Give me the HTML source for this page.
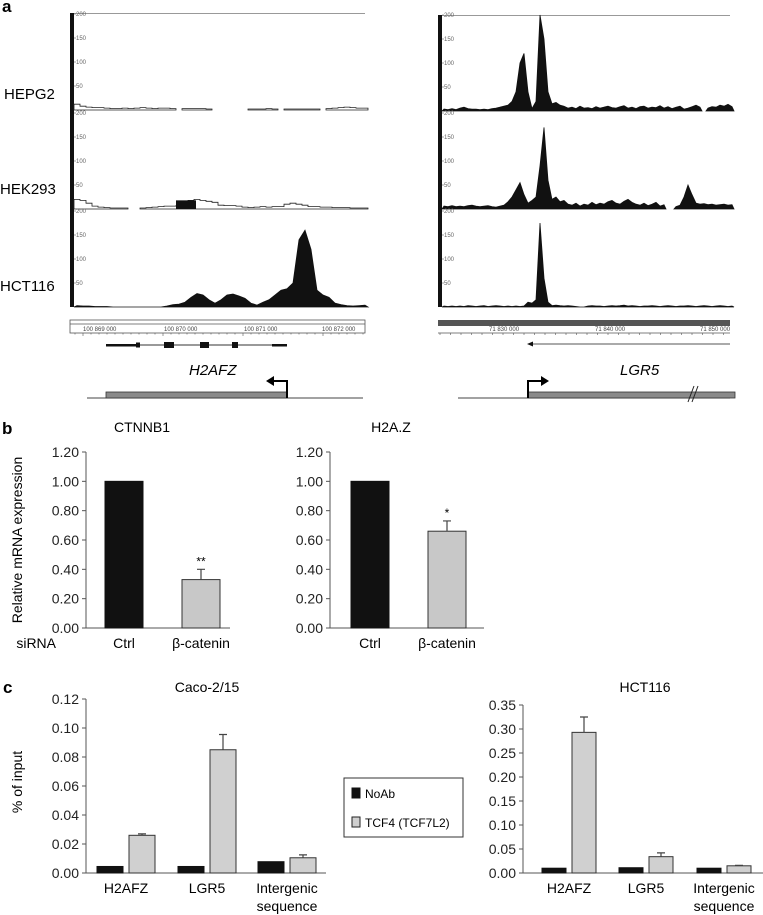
<!DOCTYPE html>
<html><head><meta charset="utf-8">
<style>
html,body{margin:0;padding:0;background:#fff;}
svg{display:block;font-family:"Liberation Sans",Arial,sans-serif;}
</style></head>
<body>
<svg id="fig" width="763" height="915" viewBox="0 0 763 915" xmlns="http://www.w3.org/2000/svg">
  <text x="2" y="12" font-size="17" font-weight="bold">a</text>
  <text x="2" y="434" font-size="17" font-weight="bold">b</text>
  <text x="3" y="693" font-size="17" font-weight="bold">c</text>

  <g>
    <rect x="70" y="13" width="4" height="294" fill="#111"/>
    <line x1="74" y1="13.5" x2="365" y2="13.5" stroke="#999" stroke-width="1"/>
    <text x="4" y="99" font-size="15">HEPG2</text>
    <text x="0" y="194" font-size="15">HEK293</text>
    <text x="0" y="291" font-size="15">HCT116</text>
    <g id="leftTracks"></g>
    <rect x="70" y="320" width="295" height="13" fill="#fff" stroke="#555" stroke-width="0.8"/>
    <line x1="70" y1="324" x2="365" y2="324" stroke="#555" stroke-width="0.8"/>
    <g id="leftRulerTicks"></g>
    <text x="83" y="331" font-size="6" fill="#444">100  869  000</text>
    <text x="164" y="331" font-size="6" fill="#444">100  870  000</text>
    <text x="244" y="331" font-size="6" fill="#444">100  871  000</text>
    <text x="322" y="331" font-size="6" fill="#444">100  872  000</text>
    <g>
      <line x1="106" y1="345" x2="287" y2="345" stroke="#333" stroke-width="1"/>
      <rect x="106" y="344" width="32" height="2.5" fill="#111"/>
      <rect x="136" y="342.5" width="4" height="5" fill="#111"/>
      <rect x="164" y="342" width="10" height="6" fill="#111"/>
      <rect x="200" y="342" width="9" height="6" fill="#111"/>
      <rect x="232" y="342" width="6" height="6" fill="#111"/>
      <rect x="272" y="344" width="15" height="2.5" fill="#111"/>
    </g>
    <text x="189" y="375" font-size="15" font-style="italic">H2AFZ</text>
    <line x1="87" y1="398" x2="363" y2="398" stroke="#444" stroke-width="1"/>
    <rect x="106" y="392" width="181" height="6" fill="#8a8a8a" stroke="#333" stroke-width="0.8"/>
    <path d="M287 398 V381 H272" fill="none" stroke="#000" stroke-width="2"/>
    <path d="M266 381 L274 376 L274 386 Z" fill="#000"/>
  </g>

  <g>
    <rect x="438" y="15" width="4" height="292" fill="#111"/>
    <line x1="442" y1="15.5" x2="730" y2="15.5" stroke="#999" stroke-width="1"/>
    <g id="rightTracks"></g>
    <rect x="438" y="320" width="292" height="6" fill="#555"/>
    <line x1="438" y1="333" x2="730" y2="333" stroke="#555" stroke-width="0.8"/>
    <g id="rightRulerTicks"></g>
    <text x="489" y="331" font-size="6" fill="#444">71  830  000</text>
    <text x="595" y="331" font-size="6" fill="#444">71  840  000</text>
    <text x="700" y="331" font-size="6" fill="#444">71  850  000</text>
    <line x1="531" y1="344" x2="730" y2="344" stroke="#555" stroke-width="1"/>
    <path d="M527 344 L533 341.5 L533 346.5 Z" fill="#111"/>
    <text x="620" y="375" font-size="15" font-style="italic">LGR5</text>
    <line x1="458" y1="398" x2="730" y2="398" stroke="#444" stroke-width="1"/>
    <rect x="528" y="392" width="207" height="6" fill="#8a8a8a" stroke="#333" stroke-width="0.8"/>
    <path d="M528 398 V381 H542" fill="none" stroke="#000" stroke-width="2"/>
    <path d="M549 381 L541 376 L541 386 Z" fill="#000"/>
    <path d="M688 402 L694 386 M692 402 L698 386" stroke="#222" stroke-width="1"/>
  </g>

  <text x="142" y="432" font-size="14" text-anchor="middle">CTNNB1</text>
  <text x="391" y="432" font-size="14" text-anchor="middle">H2A.Z</text>
  <text transform="translate(22,540) rotate(-90)" font-size="14" text-anchor="middle">Relative mRNA expression</text>
  <text x="56" y="648" font-size="14" text-anchor="end">siRNA</text>
  <g id="bLeft"></g>
  <g id="bRight"></g>

  <text x="207" y="692" font-size="14" text-anchor="middle">Caco-2/15</text>
  <text x="645" y="692" font-size="14" text-anchor="middle">HCT116</text>
  <text transform="translate(22,782) rotate(-90)" font-size="14" text-anchor="middle">% of input</text>
  <g id="cLeft"></g>
  <g id="cRight"></g>
  <g>
    <rect x="344" y="778" width="119" height="59" fill="#fff" stroke="#333" stroke-width="1"/>
    <rect x="352" y="788" width="8" height="10" fill="#111" stroke="#111"/>
    <text x="365" y="798" font-size="12">NoAb</text>
    <rect x="352" y="817" width="8" height="10" fill="#d0d0d0" stroke="#222"/>
    <text x="365" y="827" font-size="12">TCF4 (TCF7L2)</text>
  </g>
</svg>
<script>
const NS = 'http://www.w3.org/2000/svg';
function mk(parent, tag, attrs){const e=document.createElementNS(NS,tag);for(const k in attrs)e.setAttribute(k,attrs[k]);parent.appendChild(e);return e;}

const leftHepg2 = [12,8,6,5,5,4,3,3,4,3,4,5,4,3,4,4,3,-1,3,3,3,3,2,-1,-1,-1,-1,-1,-1,2,2,2,3,2,-1,2,2,2,2,2,2,-1,3,4,5,6,5,4,4];
const leftHek293 = [20,18,12,6,4,3,2,2,2,-1,-1,2,3,4,5,6,6,7,15,18,20,18,16,14,8,7,7,6,4,3,4,5,4,5,5,10,12,10,8,5,5,4,4,3,3,3,2,2,2];
const leftHct116 = [3,2,2,1,1,1,0,0,0,0,0,0,0,0,0,2,5,6,10,20,28,25,15,8,15,25,27,23,18,8,4,10,15,25,35,38,50,140,160,120,35,25,20,8,5,3,2,3,4];
const rightHepg2 = [4,3,5,3,6,8,5,4,4,3,4,3,5,6,8,10,12,20,40,100,120,40,5,20,200,150,40,15,18,12,10,6,8,5,10,6,7,5,9,6,8,10,7,6,9,11,6,8,5,9,10,6,8,7,11,6,9,5,8,10,4,6,9,12,8,-1,6,9,8,12,10,14,9];
const rightHek293 = [6,5,7,5,6,5,7,8,6,5,6,7,5,4,6,8,15,25,40,55,30,12,18,25,90,170,60,20,25,15,18,10,8,12,6,10,8,14,9,12,10,15,18,12,10,16,20,14,10,8,12,7,10,14,6,9,-1,-1,5,8,25,50,30,12,10,11,9,10,8,9,10,8,9];
const rightHct116 = [2,1,2,1,2,1,3,2,1,2,3,1,2,3,2,1,2,1,2,1,2,10,8,15,175,60,10,3,4,3,2,3,2,1,0,0,2,3,2,2,1,2,3,2,3,4,2,3,2,1,2,2,3,2,1,2,3,2,1,2,2,3,2,1,2,3,2,1,2,3,2,1,2];
const trackMax = 200;
const trackScaleLabels = ['200','150','100','50'];

function yTrack(base, v){ return base - v/trackMax*96; }
function drawTrack(gid, vals, x0, step, base, fill, stroke, name, smooth){
  const g = document.getElementById(gid);
  let segs=[], cur=[];
  vals.forEach((v,i)=>{ if(v<0){ if(cur.length)segs.push(cur); cur=[]; } else cur.push(i); });
  if(cur.length) segs.push(cur);
  segs.forEach(seg=>{
    let d = 'M'+(x0+seg[0]*step)+' '+base;
    seg.forEach(i=>{
      const y=yTrack(base, vals[i]).toFixed(1);
      if(smooth){ d += ' L'+(x0+(i+0.5)*step)+' '+y; }
      else { d += ' L'+(x0+i*step)+' '+y+' L'+(x0+(i+1)*step)+' '+y; }
    });
    d += ' L'+(x0+(seg[seg.length-1]+1)*step)+' '+base+' Z';
    const p = mk(g,'path',{d:d,fill:fill,stroke:stroke,'stroke-width':0.8});
    
    
  });
}
function drawTrackScale(gid, barX, base){
  const g=document.getElementById(gid);
  trackScaleLabels.forEach(lab=>{
    const v = Number(lab);
    const t = mk(g,'text',{x:barX+6,y:yTrack(base,v)+2,'font-size':6,fill:'#666'});
    t.textContent = lab;
    
    
    mk(g,'line',{x1:barX+4,x2:barX+6,y1:yTrack(base,v),y2:yTrack(base,v),stroke:'#666','stroke-width':0.6});
  });
}
drawTrack('leftTracks', leftHepg2, 74, 6, 110, '#fff', '#222', 'hepg2-h2afz-track', false);
drawTrack('leftTracks', leftHek293, 74, 6, 209, '#fff', '#222', 'hek293-h2afz-track', false);
drawTrack('leftTracks', leftHct116, 74, 6, 307, '#111', '#111', 'hct116-h2afz-track', true);
drawTrack('rightTracks', rightHepg2, 442, 4, 111, '#111', '#111', 'hepg2-lgr5-track', true);
drawTrack('rightTracks', rightHek293, 442, 4, 209, '#111', '#111', 'hek293-lgr5-track', true);
drawTrack('rightTracks', rightHct116, 442, 4, 307, '#111', '#111', 'hct116-lgr5-track', true);
[110,209,307].forEach(b=>drawTrackScale('leftTracks',70,b));
[111,209,307].forEach(b=>drawTrackScale('rightTracks',438,b));
(function(){
  const g=document.getElementById('leftTracks');
  const p=mk(g,'rect',{x:176,y:yTrack(209,18),width:20,height:209-yTrack(209,18),fill:'#111'});
  
  
})();
(function(){
  const g=document.getElementById('leftRulerTicks');
  for(let x=75;x<365;x+=8){ mk(g,'line',{x1:x,x2:x,y1:333,y2:x%80<8?336:334.5,stroke:'#555','stroke-width':0.6}); }
  const g2=document.getElementById('rightRulerTicks');
  for(let x=440;x<730;x+=10.5){ mk(g2,'line',{x1:x,x2:x,y1:333,y2:335,stroke:'#555','stroke-width':0.6}); }
})();

const bCategories = ['Ctrl','\u03b2-catenin'];
const ctnnb1Values = [1.00, 0.33];
const ctnnb1Errors = [0.00, 0.07];
const ctnnb1Stars = ['', '**'];
const h2azValues = [1.00, 0.66];
const h2azErrors = [0.00, 0.07];
const h2azStars = ['', '*'];
const bTicks = ['0.00','0.20','0.40','0.60','0.80','1.00','1.20'];

const cCategories = ['H2AFZ','LGR5','Intergenic|sequence'];
const cacoNoAb = [0.0045, 0.0045, 0.0078];
const cacoTcf4 = [0.026, 0.085, 0.0105];
const cacoTcf4Err = [0.001, 0.0105, 0.002];
const cacoTicks = ['0.00','0.02','0.04','0.06','0.08','0.10','0.12'];
const hctNoAb = [0.010, 0.011, 0.010];
const hctTcf4 = [0.293, 0.034, 0.015];
const hctTcf4Err = [0.032, 0.008, 0.001];
const hctTicks = ['0.00','0.05','0.10','0.15','0.20','0.25','0.30','0.35'];

function axes(g, cfg, ticks){
  const yS = v => cfg.base - v/cfg.max*(cfg.base-cfg.top);
  const ax = mk(g,'line',{x1:cfg.ax,x2:cfg.ax,y1:cfg.top,y2:cfg.base,stroke:'#555','stroke-width':1});
   
  const bx = mk(g,'line',{x1:cfg.ax,x2:cfg.xEnd,y1:cfg.base,y2:cfg.base,stroke:'#555','stroke-width':1});
   
  ticks.forEach(t=>{
    const y=yS(Number(t));
    mk(g,'line',{x1:cfg.ax-4,x2:cfg.ax,y1:y,y2:y,stroke:'#555','stroke-width':1});
    const tx=mk(g,'text',{x:cfg.ax-7,y:y+5,'font-size':cfg.fs,'text-anchor':'end',fill:'#222'});
    tx.textContent=t;
    
    
  });
  return yS;
}
function bar(g, x, w, v, yS, base, fill, name){
  const y=yS(v);
  const r=mk(g,'rect',{x:x,y:y,width:w,height:base-y,fill:fill,stroke:fill==='#111'?'#111':'#333','stroke-width':1});
  
  
}
function errBar(g, cx, v, e, yS){
  if(e<=0) return;
  const y1=yS(v), y2=yS(v+e);
  const l=mk(g,'path',{d:'M'+cx+' '+y1+' V'+y2+' M'+(cx-4)+' '+y2+' H'+(cx+4),stroke:'#444','stroke-width':1.2,fill:'none'});
  
  
}

function bChart(id, ax, xEnd, bars, vals, errs, stars){
  const g=document.getElementById(id);
  const cfg={ax:ax,xEnd:xEnd,top:452,base:628,max:1.2,fs:14};
  const yS=axes(g,cfg,bTicks);
  vals.forEach((v,i)=>{
    const x=bars[i];
    bar(g,x,38,v,yS,cfg.base,i===0?'#111':'#c8c8c8','bar-'+(i===0?'ctrl':'beta-catenin'));
    errBar(g,x+19,v,errs[i],yS);
    if(stars[i]){ const s=mk(g,'text',{x:x+19,y:yS(v+errs[i])-4,'font-size':12,'text-anchor':'middle'}); s.textContent=stars[i];
        }
    const t=mk(g,'text',{x:x+19,y:648,'font-size':14,'text-anchor':'middle'}); t.textContent=bCategories[i];
     
  });
}
bChart('bLeft', 86, 230, [105,182], ctnnb1Values, ctnnb1Errors, ctnnb1Stars);
bChart('bRight', 330, 484, [351,428], h2azValues, h2azErrors, h2azStars);

function cChart(id, cfg, ticks, noab, tcf, tcfErr, groupX, bw, gap){
  const g=document.getElementById(id);
  const yS=axes(g,cfg,ticks);
  cCategories.forEach((c,i)=>{
    const x=groupX[i];
    bar(g,x,bw,noab[i],yS,cfg.base,'#111','bar-noab');
    bar(g,x+bw+gap,bw,tcf[i],yS,cfg.base,'#d0d0d0','bar-tcf4');
    errBar(g,x+bw+gap+bw/2,tcf[i],tcfErr[i],yS);
    const cx=x+bw+gap/2;
    c.split('|').forEach((line,k)=>{
      const t=mk(g,'text',{x:cx,y:893+k*18,'font-size':14,'text-anchor':'middle'}); t.textContent=line;
       
    });
  });
}
cChart('cLeft',{ax:86,xEnd:326,top:699,base:873,max:0.12,fs:14},cacoTicks,cacoNoAb,cacoTcf4,cacoTcf4Err,[97,178,258],26,6);
cChart('cRight',{ax:523,xEnd:763,top:705,base:873,max:0.35,fs:14},hctTicks,hctNoAb,hctTcf4,hctTcf4Err,[542,619,697],24,6);
</script>
</body></html>
